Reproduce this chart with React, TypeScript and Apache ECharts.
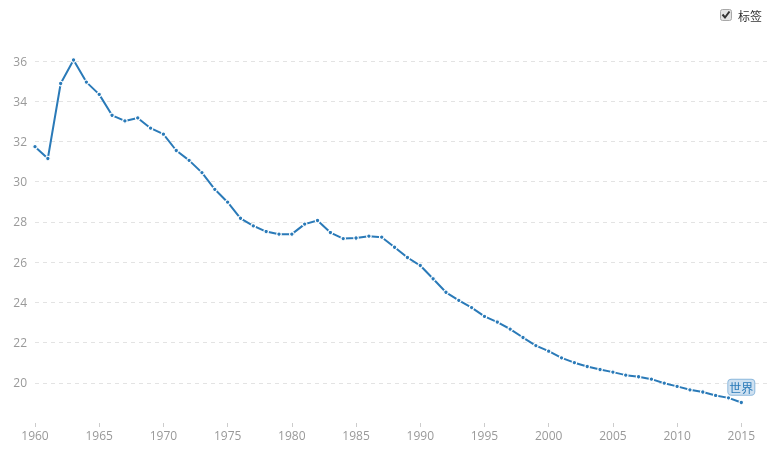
import React, { useEffect, useRef } from "react";
import * as echarts from "echarts";

const years: string[] = [];
for (let y = 1960; y <= 2017; y++) years.push(String(y));

const values: (number | null)[] = [
  31.74, 31.15, 34.88, 36.05, 34.95, 34.34, 33.3, 33.02, 33.17, 32.66,
  32.36, 31.55, 31.06, 30.45, 29.62, 28.98, 28.18, 27.8, 27.52, 27.39,
  27.39, 27.89, 28.07, 27.47, 27.17, 27.2, 27.29, 27.24, 26.74, 26.23,
  25.83, 25.17, 24.5, 24.1, 23.74, 23.3, 23.02, 22.67, 22.25, 21.85,
  21.57, 21.24, 21.0, 20.81, 20.66, 20.53, 20.38, 20.3, 20.18, 19.98,
  19.82, 19.65, 19.54, 19.37, 19.25, 19.02, null, null,
];

const seriesName = "标签";
const endLabelText = "世界";

export default function App() {
  const ref = useRef<HTMLDivElement>(null);
  useEffect(() => {
    if (!ref.current) return;
    const chart = echarts.init(ref.current, undefined, { renderer: "svg" });
    let lastIdx = -1;
    values.forEach((v, i) => {
      if (v != null) lastIdx = i;
    });
    const blue = "#2a7ab8";
    const data = values.map((v, i) =>
      i === lastIdx
        ? {
            value: v,
            label: {
              show: true,
              position: "top",
              distance: 5,
              formatter: endLabelText,
              color: blue,
              fontSize: 12,
              fontFamily: "'Noto Sans CJK SC', sans-serif",
              backgroundColor: "#cfe1f1",
              borderColor: "#8db8dc",
              borderWidth: 1,
              borderRadius: 3,
              padding: [2, 1, 1, 1],
            },
          }
        : v
    );
    chart.setOption({
      animation: false,
      textStyle: { fontFamily: "'Open Sans', 'Noto Sans CJK SC', sans-serif" },
      grid: { left: 35, right: 3, top: 61, bottom: 28, containLabel: false },
      legend: {
        right: 3,
        top: 4,
        icon: "rect",
        itemWidth: 0,
        itemHeight: 10,
        itemGap: 5,
        itemStyle: { opacity: 0 },
        textStyle: {
          color: "#333",
          fontSize: 12,
          fontFamily: "'Noto Sans CJK SC', sans-serif",
        },
        data: [seriesName],
        selectedMode: false,
      },
      graphic: [
        {
          type: "rect",
          left: 720,
          top: 9,
          shape: { width: 11, height: 11, r: 2 },
          style: { fill: "#e4e4e4", stroke: "#a8a8a8", lineWidth: 1 },
          z: 100,
        },
        {
          type: "polyline",
          shape: { points: [[722.5, 14.5], [725, 17.5], [729.5, 11.5]] },
          style: { stroke: "#333", lineWidth: 2, fill: "none" },
          z: 101,
        },
      ],
      xAxis: {
        type: "category",
        data: years,
        boundaryGap: false,
        axisLine: { show: false },
        axisTick: {
          show: true,
          interval: 4,
          length: 4,
          lineStyle: { color: "#ccc" },
        },
        axisLabel: {
          interval: 4,
          color: "#999",
          fontSize: 12,
          margin: 6,
        },
        splitLine: { show: false },
      },
      yAxis: {
        type: "value",
        min: 18,
        max: 36,
        interval: 2,
        axisLine: { show: false },
        axisTick: { show: false },
        axisLabel: {
          color: "#999",
          fontSize: 12,
          margin: 8,
          showMinLabel: false,
        },
        splitLine: {
          show: true,
          showMinLine: false,
          lineStyle: { color: "#e3e3e3", type: [4, 4], width: 1 },
        },
      },
      series: [
        {
          name: seriesName,
          type: "line",
          data,
          clip: false,
          connectNulls: false,
          symbol: "circle",
          symbolSize: 4.5,
          showSymbol: true,
          lineStyle: { color: blue, width: 2 },
          itemStyle: { color: blue, borderColor: "#fff", borderWidth: 1.2 },
        },
      ],
    });
    return () => chart.dispose();
  }, []);
  return (
    <div
      ref={ref}
      style={{ position: "fixed", left: 0, top: 0, width: 770, height: 451 }}
    />
  );
}
